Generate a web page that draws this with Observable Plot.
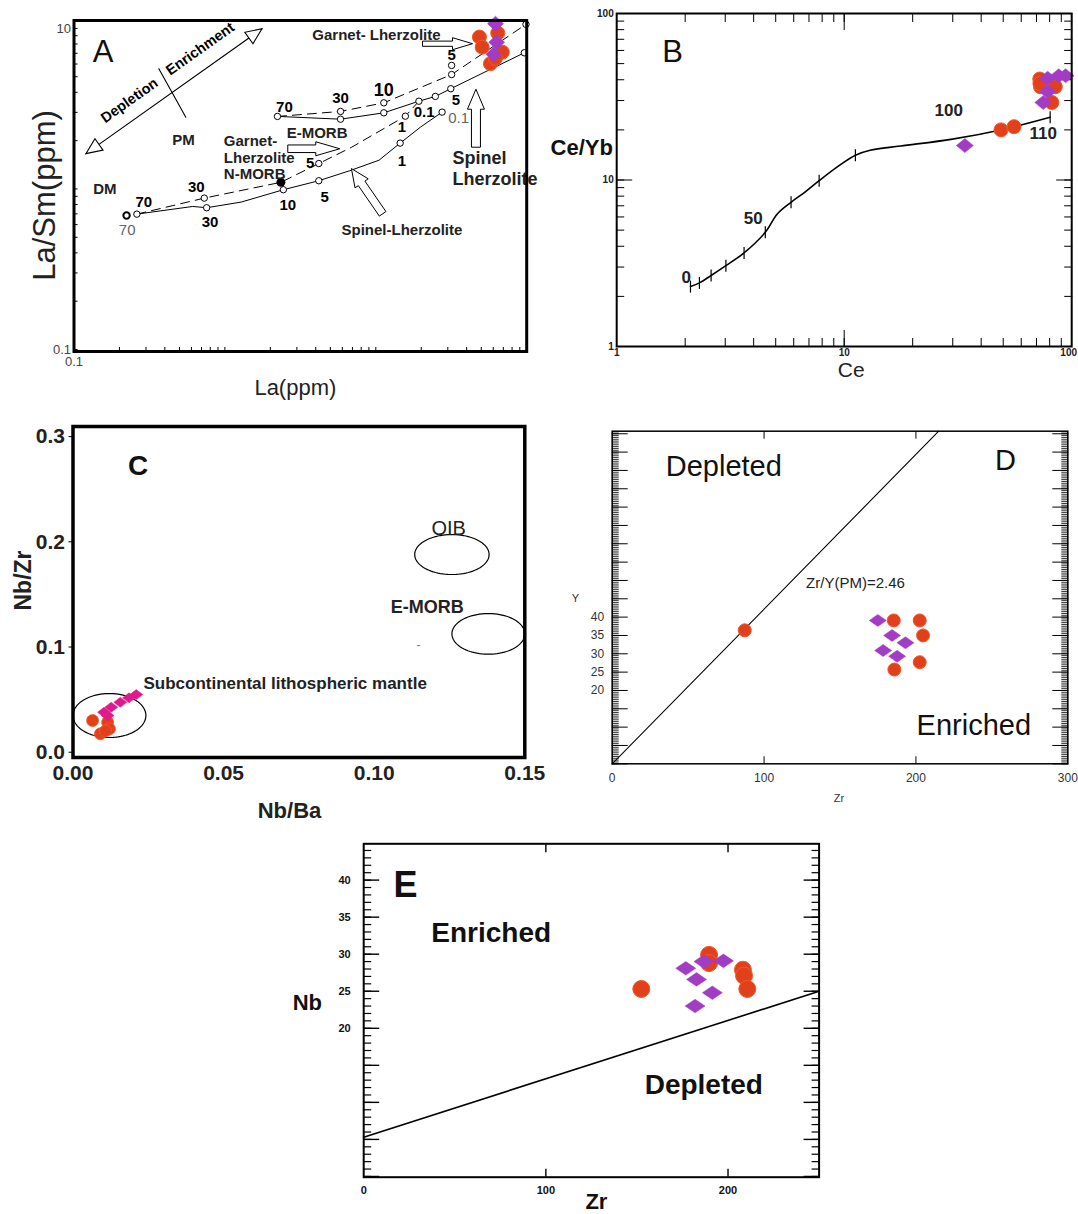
<!DOCTYPE html>
<html>
<head>
<meta charset="utf-8">
<script src="https://cdn.jsdelivr.net/npm/d3@7"></script>
<script src="https://cdn.jsdelivr.net/npm/@observablehq/plot@0.6"></script>
<style>
html,body{margin:0;padding:0;background:#fff;}
#root{position:relative;width:1078px;height:1214px;overflow:hidden;background:#fff;}
</style>
</head>
<body>
<div id="root"></div>
<script>
// ================= DATA =================
// ---- Panel A : La/Sm vs La (log-log) ----
const aSpinelDM = [[0.261,0.697],[0.612,0.778],[0.757,0.764],[1.28,0.828],[2.44,0.989],[4.19,1.125],[6.73,1.30],[10.5,1.51],[14.5,1.93],[19.8,2.43],[27.5,3.01]];
const aGarnetDM = [[0.261,0.697],[0.730,0.877],[2.35,1.10],[4.19,1.44],[6.92,1.82],[15.7,2.84],[19.3,3.52]];
const aSpinelPM = [[2.23,2.83],[5.84,2.72],[11.3,2.98],[19.3,3.52],[24.8,3.77],[31.4,4.21],[96.4,7.05]];
const aGarnetPM = [[2.23,2.83],[5.84,3.04],[11.3,3.44],[31.8,5.16],[98.9,10.6]];
const aMeltPoints = [[0.261,0.697],[0.757,0.764],[0.730,0.877],[2.44,0.989],[4.19,1.125],[4.19,1.44],[14.5,1.93],[15.7,2.84],[27.5,3.01],[2.23,2.83],[5.84,2.72],[5.84,3.04],[11.3,2.98],[11.3,3.44],[19.3,3.52],[24.8,3.77],[31.4,4.21],[31.8,5.16],[31.8,5.88],[96.4,7.05],[98.9,10.6]];
const aSourceDM = [[0.223,0.684]];
const aNMORB = [[2.35,1.10]];
const aMeltLabels = [["70",2.48,3.24],["30",5.84,3.65],["5",31.8,6.79],["5",34,3.56],["0.1",20.9,3.01],["1",14.9,2.43],["1",14.9,1.49],["5",4.58,0.889],["10",2.61,0.789],["5",3.67,1.44],["30",0.646,1.03],["30",0.797,0.621],["70",0.29,0.828]];
const aMeltLabelsBig = [["10",11.3,4.11]];
const aMeltLabelsGray = [["0.1",35.4,2.74],["70",0.225,0.552]];
const aFieldLabels = [["PM",0.531,2.0],["DM",0.16,1.0],["E-MORB",4.08,2.24],["Garnet- Lherzolite",10.1,9.13],["Spinel-Lherzolite",14.9,0.552]];
const aNMORBLabel = [["Garnet-\nLherzolite\nN-MORB",0.984,1.58]];
const aSpinelLabel = [["Spinel\nLherzolite",32.2,1.36]];
const aTrend = [[0.12,1.66],[1.76,9.95]];
const aTrendDivider = [[0.365,5.61],[0.551,2.80]];
const aTrendLabels = [["Depletion",0.244,3.31],["Enrichment",0.718,6.95]];
const aArrowGarnetTop = [[20.4,8.03]];
const aArrowGarnetNMORB = [[2.61,1.78]];
const aArrowSpinelLow = [[11.1,0.70]];
const aArrowSpinelUp = [[46.1,1.82]];
const aPanel = [["A",0.156,7.13]];
const aRed = [[48.6,8.83],[64.3,9.35],[50.7,7.64],[68.9,7.11],[57.5,6.03],[62,6.5]];
const aPurple = [[62.1,10.7],[63.2,8.2],[60.5,6.9]];
const aXTickLabels = [0.1];
const aYTickLabels = [0.1, 10];

// ---- Panel B : Ce/Yb vs Ce ----
const bCurve = [[2.11,2.29],[2.31,2.41],[2.60,2.67],[3.02,3.06],[3.63,3.65],[4.50,4.85],[5.08,6.25],[5.84,7.35],[6.70,8.43],[7.76,9.91],[9.49,12.2],[11.2,14.1],[13.0,15.1],[17.7,16.0],[29.9,17.6],[50.4,20.2],[80.4,23.8]];
const bCurveTicks = [[2.11,2.29],[2.31,2.41],[2.60,2.67],[3.02,3.06],[3.63,3.65],[4.50,4.85],[5.84,7.35],[7.76,9.91],[11.2,14.1],[80.4,23.8]];
const bCurveLabels = [["0",2.02,2.61],["50",3.98,5.83],["100",28.8,26.1],["110",75,18.9]];
const bPanel = [["B",1.76,58.3]];
const bRed = [[48.9,20.0],[55.8,20.9],[72.4,40.4],[72.9,36.3],[84.7,36.3],[81.8,29.2],[72.5,38.0]];
const bPurple = [[33.9,16.1],[75,29.2],[78.4,34.0],[78.4,40.9],[87.7,42.3],[94,42.3]];
const bTickLabels = [1, 10];
const bTickLabelEnd = [100];

// ---- Panel C : Nb/Zr vs Nb/Ba ----
const cEllipses = [
  {name:"SCLM", cx:0.0121, cy:0.0349, rx:0.0121, ry:0.0209},
  {name:"OIB", cx:0.1258, cy:0.1879, rx:0.01235, ry:0.019},
  {name:"E-MORB", cx:0.1379, cy:0.1125, rx:0.0121, ry:0.0193}
];
const cRed = [[0.0065,0.0301],[0.0115,0.0285],[0.0121,0.0222],[0.0091,0.0175],[0.0108,0.0203]];
const cMagenta = [[0.0103,0.038],[0.0127,0.0428],[0.0157,0.0475],[0.0186,0.0517],[0.021,0.0548],[0.0115,0.0349]];
const cPanel = [["C",0.0216,0.2725]];
const cOIB = [["OIB",0.1247,0.2123]];
const cEMORB = [["E-MORB",0.1176,0.1378]];
const cSCLM = [["Subcontinental lithospheric mantle",0.0234,0.065]];
const cDash = [["-",0.1147,0.1014]];
const cXTickLabels = [0, 0.05, 0.10, 0.15];
const cYTickLabels = [0.0, 0.1, 0.2, 0.3];

// ---- Panel D : Y vs Zr ----
const dLine = [[0,0],[215,90.7]];
const dRed = [[87.3,36.4],[185.4,39.1],[202.5,39.1],[204.7,35.0],[202.5,27.7],[185.8,25.7]];
const dPurple = [[174.9,39.1],[184.3,35.0],[193.1,33.0],[178.4,30.9],[187.6,29.3]];
const dBigLabels = [["Depleted",73.5,80.9],["D",259,82.7],["Enriched",238.1,10.4]];
const dRatioLabel = [["Zr/Y(PM)=2.46",160.2,49.3]];
const dXTickLabels = [0, 100, 200, 300];
const dYTickLabels = [20, 25, 30, 35, 40];

// ---- Panel E : Nb vs Zr ----
const eLine = [[0,5.3],[250,25.0]];
const eRed = [[152.4,25.3],[189.6,29.9],[189.6,28.8],[208.2,27.9],[208.8,27.1],[210.6,25.3]];
const ePurple = [[176.8,28.1],[182.7,26.6],[186.8,29.0],[197.5,29.1],[191.4,24.8],[181.9,23.0]];
const ePanel = [["E",22.9,39.3]];
const eBigLabels = [["Enriched",70,32.8],["Depleted",186.7,12.4]];
const eXTickLabels = [0, 100, 200];
const eYTickLabels = [20, 25, 30, 35, 40];

// ================= HELPERS =================
const FONT = '"Liberation Sans", Arial, Helvetica, sans-serif';
const RED = "#e2401b", RED_EDGE = "#ee5a2c", PURPLE = "#a33cc5", MAGENTA = "#df1b8c";
const root = document.getElementById("root");
function place(svg, left, top) {
  svg.style.position = "absolute";
  svg.style.left = left + "px";
  svg.style.top = top + "px";
  svg.style.maxWidth = "none";
  root.appendChild(svg);
}
const XY = {x: d => d[0], y: d => d[1]};
const TXY = {x: d => d[1], y: d => d[2], text: d => d[0]};
function rot(pts, deg) {
  const a = deg * Math.PI / 180, c = Math.cos(a), s = Math.sin(a);
  return pts.map(([x, y]) => [x * c - y * s, x * s + y * c]);
}
function polySym(pts) {
  return {draw(ctx) { ctx.moveTo(pts[0][0], pts[0][1]); for (let i = 1; i < pts.length; i++) ctx.lineTo(pts[i][0], pts[i][1]); ctx.closePath(); }};
}
function diamondSym(w, h) { return polySym([[-w,0],[0,-h],[w,0],[0,h]]); }
function blockArrowSym(L, s, hh, hl, deg) {
  return polySym(rot([[0,-s],[L-hl,-s],[L-hl,-hh],[L,0],[L-hl,hh],[L-hl,s],[0,s]], deg));
}
function triSym(len, half, deg) { return polySym(rot([[0,0],[-len,-half],[-len,half]], deg)); }
const vTickSym = {draw(ctx) { ctx.moveTo(0,-6); ctx.lineTo(0,6); }};
function logMinor(lo, hi) {
  const out = [];
  for (let e = Math.floor(Math.log10(lo)); e <= Math.ceil(Math.log10(hi)); e++)
    for (let m = 1; m < 10; m++) { const v = +(m * Math.pow(10, e)).toPrecision(3); if (v > lo * 1.0001 && v < hi * 0.9999) out.push(v); }
  return out;
}
function inTicks(axis, anchor, values, len, sw = 1) {
  const o = {anchor, tickSize: len, fill: "none", label: null, strokeWidth: sw};
  if (anchor === "bottom") o.dy = -len; else if (anchor === "top") o.dy = len;
  else if (anchor === "left") o.dx = len; else o.dx = -len;
  return (axis === "x" ? Plot.axisX : Plot.axisY)(values, o);
}
function axText(axis, anchor, values, fmt, size, weight, color, pad, extra = {}) {
  return (axis === "x" ? Plot.axisX : Plot.axisY)(values, {anchor, tickSize: 0, tickPadding: pad, tickFormat: fmt, label: null, fontSize: size, fontWeight: weight, fill: color, fontFamily: FONT, ...extra});
}
function title(txt, anchor, dx, dy, o) {
  return Plot.text([txt], {text: d => d, frameAnchor: anchor, dx, dy, textAnchor: "middle", lineAnchor: "middle", ...o});
}
function ellipsePts(e) {
  return d3.range(0, 361, 4).map(a => [e.cx + e.rx * Math.cos(a * Math.PI / 180), e.cy + e.ry * Math.sin(a * Math.PI / 180)]);
}
const baseStyle = {fontFamily: FONT, background: "transparent", overflow: "visible", color: "black"};

// ================= PANEL A =================
const plotA = Plot.plot({
  width: 545, height: 405, marginLeft: 73.5, marginTop: 20, marginRight: 18.8, marginBottom: 54,
  style: baseStyle,
  x: {type: "log", domain: [0.1, 100], axis: null, label: null},
  y: {type: "log", domain: [0.0972, 11.2], axis: null, label: null},
  marks: [
    inTicks("x", "bottom", logMinor(0.1, 100), 4),
    inTicks("y", "left", logMinor(0.0972, 11.2), 4),
    axText("y", "left", aYTickLabels, d => String(d), 13, "normal", "#444", 3),
    axText("x", "bottom", aXTickLabels, d => String(d), 13, "normal", "#444", 5),
    Plot.line(aSpinelDM, {...XY, stroke: "black", strokeWidth: 1}),
    Plot.line(aGarnetDM, {...XY, stroke: "black", strokeWidth: 1, strokeDasharray: "9,6"}),
    Plot.line(aSpinelPM, {...XY, stroke: "black", strokeWidth: 1}),
    Plot.line(aGarnetPM, {...XY, stroke: "black", strokeWidth: 1, strokeDasharray: "9,6"}),
    Plot.dot(aMeltPoints, {...XY, r: 3.2, fill: "white", stroke: "black", strokeWidth: 1}),
    Plot.dot(aSourceDM, {...XY, r: 3.2, fill: "white", stroke: "black", strokeWidth: 2}),
    Plot.dot(aNMORB, {...XY, r: 4.5, fill: "black"}),
    Plot.line(aTrend, {...XY, stroke: "black", strokeWidth: 1.1}),
    Plot.line(aTrendDivider, {...XY, stroke: "black", strokeWidth: 1.1}),
    Plot.dot([aTrend[1]], {...XY, r: 5, symbol: triSym(16, 7, -35.4), fill: "white", stroke: "black", strokeWidth: 1.1}),
    Plot.dot([aTrend[0]], {...XY, r: 5, symbol: triSym(16, 7, 144.6), fill: "white", stroke: "black", strokeWidth: 1.1}),
    Plot.text(aTrendLabels, {...TXY, rotate: -35.4, dx: -3, dy: -5, fontSize: 14.5, fontWeight: "bold"}),
    Plot.dot(aArrowGarnetTop, {...XY, r: 5, symbol: blockArrowSym(50, 2.6, 6, 20, 0), fill: "white", stroke: "black", strokeWidth: 1}),
    Plot.dot(aArrowGarnetNMORB, {...XY, r: 5, symbol: blockArrowSym(52, 3.8, 7, 24, 0), fill: "white", stroke: "black", strokeWidth: 1}),
    Plot.dot(aArrowSpinelLow, {...XY, r: 5, symbol: blockArrowSym(55, 4, 8, 18, -124.6), fill: "white", stroke: "black", strokeWidth: 1}),
    Plot.dot(aArrowSpinelUp, {...XY, r: 5, symbol: blockArrowSym(58, 4.5, 8.5, 20, -90), fill: "white", stroke: "black", strokeWidth: 1}),
    Plot.text(aMeltLabels, {...TXY, fontSize: 15, fontWeight: "bold"}),
    Plot.text(aMeltLabelsBig, {...TXY, fontSize: 18, fontWeight: "bold"}),
    Plot.text(aMeltLabelsGray, {...TXY, fontSize: 15, fill: "#666"}),
    Plot.text(aFieldLabels, {...TXY, fontSize: 15, fontWeight: "bold", fill: "#222"}),
    Plot.text(aNMORBLabel, {...TXY, fontSize: 15, fontWeight: "bold", textAnchor: "start", lineHeight: 1.13, fill: "#222"}),
    Plot.text(aSpinelLabel, {...TXY, fontSize: 18, fontWeight: "bold", textAnchor: "start", lineHeight: 1.2, fill: "#222"}),
    Plot.text(aPanel, {...TXY, fontSize: 31, fill: "#111"}),
    Plot.dot(aRed, {...XY, r: 7, fill: RED, stroke: RED_EDGE, strokeWidth: 1}),
    Plot.dot(aPurple, {...XY, r: 7, symbol: diamondSym(8, 7.5), fill: PURPLE, stroke: PURPLE, strokeWidth: 0.5}),
    title("La/Sm(ppm)", "left", -29, 9.5, {rotate: -90, fontSize: 31, fill: "#222"}),
    title("La(ppm)", "bottom", -5, 36, {fontSize: 22, fill: "#222"}),
    Plot.frame({stroke: "black", strokeWidth: 3})
  ]
});
place(plotA, 0, 0);

// ================= PANEL B =================
const bMinor = logMinor(1, 100);
const plotB = Plot.plot({
  width: 533, height: 400, marginLeft: 71.2, marginTop: 13, marginRight: 6.8, marginBottom: 54,
  style: baseStyle,
  x: {type: "log", domain: [1, 100], axis: null, label: null},
  y: {type: "log", domain: [1, 100], axis: null, label: null},
  marks: [
    inTicks("x", "bottom", bMinor, 8), inTicks("x", "top", bMinor, 8),
    inTicks("y", "left", bMinor, 8), inTicks("y", "right", bMinor, 8),
    inTicks("x", "bottom", [10], 16), inTicks("x", "top", [10], 16),
    inTicks("y", "left", [10, 100], 16), inTicks("y", "right", [10, 100], 16),
    axText("y", "left", [...bTickLabels, ...bTickLabelEnd], d => String(d), 10, "bold", "#222", 3),
    axText("x", "bottom", bTickLabels, d => String(d), 10, "bold", "#222", 2),
    axText("x", "bottom", bTickLabelEnd, d => String(d), 10, "bold", "#222", 2, {dx: -3}),
    Plot.line(bCurve, {...XY, curve: "catmull-rom", stroke: "black", strokeWidth: 1.6}),
    Plot.dot(bCurveTicks, {...XY, r: 5, symbol: vTickSym, fill: "none", stroke: "black", strokeWidth: 1.2}),
    Plot.text(bCurveLabels, {...TXY, fontSize: 17, fontWeight: "bold", fill: "#222"}),
    Plot.text(bPanel, {...TXY, fontSize: 31, fill: "#111"}),
    Plot.dot(bRed, {...XY, r: 7, fill: RED, stroke: RED_EDGE, strokeWidth: 1}),
    Plot.dot(bPurple, {...XY, r: 7, symbol: diamondSym(8.5, 7), fill: PURPLE, stroke: PURPLE, strokeWidth: 0.5}),
    title("Ce/Yb", "left", -35, -32.5, {fontSize: 22, fontWeight: "bold", fill: "#111"}),
    title("Ce", "bottom", 7, 24, {fontSize: 21, fill: "#222"}),
    Plot.frame({stroke: "black", strokeWidth: 2})
  ]
});
place(plotB, 545, 0);

// ================= PANEL C =================
const plotC = Plot.plot({
  width: 560, height: 410, marginLeft: 72.5, marginTop: 16, marginRight: 35.7, marginBottom: 63,
  style: baseStyle,
  x: {domain: [0, 0.15], axis: null, label: null},
  y: {domain: [-0.005, 0.3096], axis: null, label: null},
  marks: [
    Plot.axisY(cYTickLabels, {anchor: "left", tickSize: 4, fill: "none", label: null}),
    axText("y", "left", cYTickLabels, d3.format(".1f"), 21, "bold", "#222", 8),
    axText("x", "bottom", cXTickLabels, d3.format(".2f"), 21, "bold", "#222", 8),
    ...cEllipses.map(e => Plot.line(ellipsePts(e), {...XY, stroke: "black", strokeWidth: 1.2})),
    Plot.dot(cRed, {...XY, r: 6, fill: RED, stroke: RED_EDGE, strokeWidth: 0.8}),
    Plot.dot(cMagenta, {...XY, r: 6, symbol: diamondSym(6.5, 5), fill: MAGENTA, stroke: MAGENTA, strokeWidth: 0.5}),
    Plot.text(cPanel, {...TXY, fontSize: 28, fontWeight: "bold", fill: "#111"}),
    Plot.text(cOIB, {...TXY, fontSize: 20, fill: "#222"}),
    Plot.text(cEMORB, {...TXY, fontSize: 18, fontWeight: "bold", fill: "#222"}),
    Plot.text(cSCLM, {...TXY, fontSize: 17, fontWeight: "bold", textAnchor: "start", fill: "#222"}),
    Plot.text(cDash, {...TXY, fontSize: 12, fill: "#777"}),
    title("Nb/Zr", "left", -49.3, -11.5, {rotate: -90, fontSize: 23, fontWeight: "bold", fill: "#222"}),
    title("Nb/Ba", "bottom", -9.4, 53, {fontSize: 22, fontWeight: "bold", fill: "#222"}),
    Plot.frame({stroke: "black", strokeWidth: 3.5})
  ]
});
place(plotC, 0, 410);

// ================= PANEL D =================
const dMinorY = d3.range(0, 91, 0.5);
const dMajorY = d3.range(0, 91, 5);
const plotD = Plot.plot({
  width: 518, height: 404, marginLeft: 51.7, marginTop: 20.7, marginRight: 10.7, marginBottom: 50.7,
  style: baseStyle,
  x: {domain: [0, 300], axis: null, label: null},
  y: {domain: [0, 90.7], axis: null, label: null},
  marks: [
    inTicks("y", "left", dMinorY, 7, 0.8), inTicks("y", "right", dMinorY, 7, 0.8),
    inTicks("y", "left", dMajorY, 16, 1), inTicks("y", "right", dMajorY, 16, 1),
    inTicks("x", "bottom", [100, 200], 7), inTicks("x", "top", [100, 200], 7),
    axText("y", "left", dYTickLabels, d => String(d), 12, "normal", "#333", 8),
    axText("x", "bottom", dXTickLabels, d => String(d), 12, "normal", "#333", 10),
    Plot.line(dLine, {...XY, stroke: "black", strokeWidth: 1.1}),
    Plot.dot(dRed, {...XY, r: 6.5, fill: RED, stroke: RED_EDGE, strokeWidth: 1}),
    Plot.dot(dPurple, {...XY, r: 6, symbol: diamondSym(8.5, 6), fill: PURPLE, stroke: PURPLE, strokeWidth: 0.5}),
    Plot.text(dBigLabels, {...TXY, fontSize: 29, fill: "#111"}),
    Plot.text(dRatioLabel, {...TXY, fontSize: 15, fill: "#222"}),
    title("Y", "left", -36.7, 1, {fontSize: 11, fill: "#333"}),
    title("Zr", "bottom", -1, 35, {fontSize: 11, fill: "#333"}),
    Plot.frame({stroke: "black", strokeWidth: 1.5})
  ]
});
place(plotD, 560, 410);

// ================= PANEL E =================
const eMinorY = d3.range(0, 45, 1);
const eMajorY = d3.range(0, 45, 5);
const plotE = Plot.plot({
  width: 560, height: 384, marginLeft: 83.2, marginTop: 13.3, marginRight: 21.4, marginBottom: 37.3,
  style: baseStyle,
  x: {domain: [0, 250], axis: null, label: null},
  y: {domain: [-0.1, 44.9], axis: null, label: null},
  marks: [
    inTicks("y", "left", eMinorY, 8, 1.2), inTicks("y", "right", eMinorY, 8, 1.2),
    inTicks("y", "left", eMajorY, 16, 1.4), inTicks("y", "right", eMajorY, 16, 1.4),
    inTicks("x", "bottom", [100, 200], 8, 1.4), inTicks("x", "top", [100, 200], 8, 1.4),
    axText("y", "left", eYTickLabels, d => String(d), 11, "bold", "#111", 13),
    axText("x", "bottom", eXTickLabels, d => String(d), 11, "bold", "#111", 9),
    Plot.line(eLine, {...XY, stroke: "black", strokeWidth: 1.6}),
    Plot.dot(eRed, {...XY, r: 8.5, fill: RED, stroke: RED_EDGE, strokeWidth: 1}),
    Plot.dot(ePurple, {...XY, r: 7, symbol: diamondSym(10, 6.8), fill: PURPLE, stroke: PURPLE, strokeWidth: 0.5}),
    Plot.text(ePanel, {...TXY, fontSize: 36, fontWeight: "bold", fill: "#111"}),
    Plot.text(eBigLabels, {...TXY, fontSize: 28, fontWeight: "bold", fill: "#111"}),
    title("Nb", "left", -56.4, -8, {fontSize: 22, fontWeight: "bold", fill: "#111"}),
    title("Zr", "bottom", 5, 25, {fontSize: 22, fontWeight: "bold", fill: "#111"}),
    Plot.frame({stroke: "black", strokeWidth: 2})
  ]
});
place(plotE, 280, 830);
</script>
</body>
</html>
